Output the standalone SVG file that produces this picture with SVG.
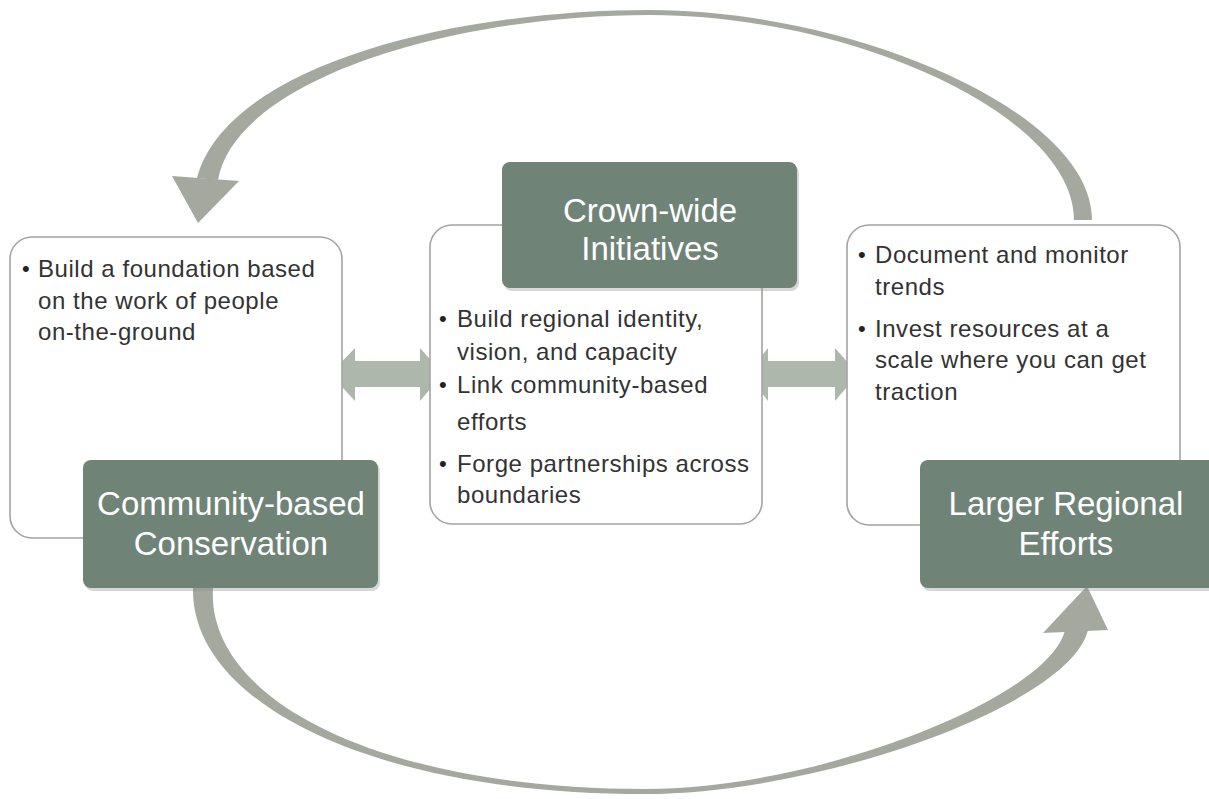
<svg xmlns="http://www.w3.org/2000/svg" width="1209" height="799" viewBox="0 0 1209 799">
  <style>
    .panel { fill: #ffffff; stroke: #a3a3a0; stroke-width: 1.6; }
    .title-box { fill: #6f8377; }
    .shade { fill: #8a8f8a; opacity: 0.35; }
    .title { font-family: "Liberation Sans", Arial, sans-serif; font-size: 33px; fill: #ffffff; text-anchor: middle; }
    .item { font-family: "Liberation Sans", Arial, sans-serif; font-size: 24px; fill: #333333; letter-spacing: 0.55px; }
    .dot { font-family: "Liberation Sans", Arial, sans-serif; font-size: 22px; fill: #222222; }
    .loop { fill: #a4a89e; }
    .link { fill: #a9b3a7; opacity: 0.95; }
  </style>

  <rect x="0" y="0" width="1209" height="799" fill="#ffffff"/>

  <!-- connectors: the outer feedback loop and the two-way links -->
  <g id="connectors">
    <!-- top arc: Larger Regional Efforts back to Community-based Conservation -->
    <path class="loop" d="M 1092 220 C 1092 110, 850 10, 650 10 C 450 10, 226 67, 197 178 L 218 180 C 236 80, 450 15, 650 15 C 850 15, 1074 114, 1074 220 Z"/>
    <polygon class="loop" points="172,176 239,181 198,223"/>

    <!-- bottom arc: Community-based Conservation up to Larger Regional Efforts -->
    <path class="loop" d="M 193 588 C 191 703, 372 794, 645 794 C 820 794, 1070 705, 1088 630 L 1065 630 C 1050 697, 820 789, 645 789 C 380 789, 206 700, 213 588 Z"/>
    <polygon class="loop" points="1043,633 1108,630 1087,586"/>

    <!-- left two-way link -->
    <polygon class="link" points="330,374 355,348 355,361 420,361 420,348 443,374 420,401 420,387 355,387 355,401"/>
    <!-- right two-way link -->
    <polygon class="link" points="747,374 768,348 768,361 835,361 835,348 858,374 835,401 835,387 768,387 768,401"/>
  </g>

  <!-- Community-based Conservation -->
  <g id="community">
    <rect class="panel" x="10" y="237" width="332" height="301" rx="22"/>
    <text class="dot" x="22" y="276">•</text>
    <text class="item" x="38" y="277">Build a foundation based</text>
    <text class="item" x="38" y="309">on the work of people</text>
    <text class="item" x="38" y="340">on-the-ground</text>
    <rect class="shade" x="85" y="463" width="295" height="128" rx="8"/>
    <rect class="title-box" x="83" y="460" width="295" height="128" rx="8"/>
    <text class="title" x="231" y="515">Community-based</text>
    <text class="title" x="231" y="555">Conservation</text>
  </g>

  <!-- Crown-wide Initiatives -->
  <g id="crownwide">
    <rect class="panel" x="430" y="225" width="332" height="299" rx="22"/>
    <rect class="shade" x="504" y="165" width="295" height="126" rx="8"/>
    <rect class="title-box" x="502" y="162" width="295" height="126" rx="8"/>
    <text class="title" x="650" y="222">Crown-wide</text>
    <text class="title" x="650" y="260">Initiatives</text>
    <text class="dot" x="439" y="326">•</text>
    <text class="item" x="457" y="327">Build regional identity,</text>
    <text class="item" x="457" y="360">vision, and capacity</text>
    <text class="dot" x="439" y="392">•</text>
    <text class="item" x="457" y="393">Link community-based</text>
    <text class="item" x="457" y="430">efforts</text>
    <text class="dot" x="439" y="471">•</text>
    <text class="item" x="457" y="472">Forge partnerships across</text>
    <text class="item" x="457" y="503">boundaries</text>
  </g>

  <!-- Larger Regional Efforts -->
  <g id="regional">
    <rect class="panel" x="847" y="225" width="333" height="300" rx="22"/>
    <text class="dot" x="858" y="262">•</text>
    <text class="item" x="875" y="263">Document and monitor</text>
    <text class="item" x="875" y="295">trends</text>
    <text class="dot" x="858" y="336">•</text>
    <text class="item" x="875" y="337">Invest resources at a</text>
    <text class="item" x="875" y="368">scale where you can get</text>
    <text class="item" x="875" y="400">traction</text>
    <rect class="shade" x="922" y="463" width="300" height="128" rx="8"/>
    <rect class="title-box" x="920" y="460" width="300" height="128" rx="8"/>
    <text class="title" x="1066" y="515">Larger Regional</text>
    <text class="title" x="1066" y="555">Efforts</text>
  </g>
</svg>
